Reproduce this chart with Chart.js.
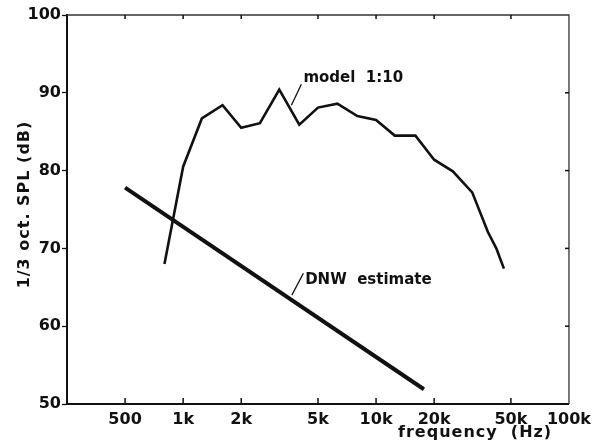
<!DOCTYPE html>
<html>
<head>
<meta charset="utf-8">
<script src="https://cdn.jsdelivr.net/npm/chart.js@4/dist/chart.umd.min.js"></script>
<style>
  html, body { margin: 0; padding: 0; background: #ffffff; }
  #wrap { width: 597px; height: 440px; }
</style>
</head>
<body>
<div id="wrap"><canvas id="c" width="597" height="440"></canvas></div>
<script>
// ---- data ----
const modelFreqs = [800, 1000, 1250, 1600, 2000, 2500, 3150, 4000, 5000, 6300, 8000, 10000, 12500, 16000, 20000, 25000, 31500, 38000, 42000, 46000];
const modelSPL   = [68.0, 80.5, 86.7, 88.4, 85.5, 86.1, 90.4, 85.9, 88.1, 88.6, 87.0, 86.5, 84.5, 84.5, 81.4, 79.9, 77.2, 72.1, 70.0, 67.4];
const dnwFreqs = [500, 17700];
const dnwSPL   = [77.8, 51.9];
const xTickValues = [500, 1000, 2000, 5000, 10000, 20000, 50000, 100000];
const xTickLabels = ['500', '1k', '2k', '5k', '10k', '20k', '50k', '100k'];
const yTickValues = [50, 60, 70, 80, 90, 100];
const xTitle = 'frequency  (Hz)';
const yTitle = '1/3 oct. SPL (dB)';
const modelLabel = 'model  1:10';
const dnwLabel = 'DNW  estimate';
// annotation anchors in data units: [freq, dB]
const modelLeader = [[3640, 88.4], [4100, 91.1]];
const modelText = [4200, 91.4];
const dnwLeader = [[3660, 64.0], [4200, 66.8]];
const dnwText = [4290, 65.4];

const INK = '#111111';
const FONT = '"DejaVu Sans", sans-serif';

const modelData = modelFreqs.map((f, i) => ({ x: f, y: modelSPL[i] }));
const dnwData = dnwFreqs.map((f, i) => ({ x: f, y: dnwSPL[i] }));

const framePlugin = {
  id: 'frame',
  afterDraw(chart) {
    const ctx = chart.ctx;
    const a = chart.chartArea;
    const xs = chart.scales.x, ys = chart.scales.y;
    ctx.save();
    ctx.strokeStyle = '#333';
    ctx.lineWidth = 1.3;
    // top and right borders
    ctx.beginPath();
    ctx.moveTo(a.left, a.top); ctx.lineTo(a.right, a.top);
    ctx.lineTo(a.right, a.bottom);
    ctx.stroke();
    // inward ticks top / bottom
    ctx.strokeStyle = INK;
    ctx.lineWidth = 1.5;
    xTickValues.forEach(v => {
      if (v >= 100000) return;
      const px = xs.getPixelForValue(v);
      ctx.beginPath();
      ctx.moveTo(px, a.bottom); ctx.lineTo(px, a.bottom - 6);
      ctx.moveTo(px, a.top); ctx.lineTo(px, a.top + 4);
      ctx.stroke();
    });
    // inward ticks right
    yTickValues.forEach(v => {
      if (v === 50 || v === 100) return;
      const py = ys.getPixelForValue(v);
      ctx.beginPath();
      ctx.moveTo(a.right, py); ctx.lineTo(a.right - 4, py);
      ctx.stroke();
    });
    // leaders
    ctx.lineWidth = 1.3;
    [modelLeader, dnwLeader].forEach(L => {
      ctx.beginPath();
      ctx.moveTo(xs.getPixelForValue(L[0][0]), ys.getPixelForValue(L[0][1]));
      ctx.lineTo(xs.getPixelForValue(L[1][0]), ys.getPixelForValue(L[1][1]));
      ctx.stroke();
    });
    // annotation texts
    ctx.fillStyle = INK;
    ctx.font = 'bold 15px ' + FONT;
    ctx.textAlign = 'left';
    ctx.textBaseline = 'alphabetic';
    ctx.fillText(modelLabel, xs.getPixelForValue(modelText[0]), ys.getPixelForValue(modelText[1]));
    ctx.fillText(dnwLabel, xs.getPixelForValue(dnwText[0]), ys.getPixelForValue(dnwText[1]));
    // axis titles
    ctx.font = 'bold 16px ' + FONT;
    try { ctx.letterSpacing = '1px'; } catch (e) {}
    ctx.textAlign = 'left';
    ctx.fillText(xTitle, 398, 437);
    ctx.save();
    ctx.translate(29, (a.top + a.bottom) / 2 - 5);
    ctx.rotate(-Math.PI / 2);
    ctx.textAlign = 'center';
    ctx.fillText(yTitle, 0, 0);
    ctx.restore();
    ctx.restore();
  }
};

new Chart(document.getElementById('c'), {
  type: 'line',
  data: {
    datasets: [
      { label: 'model 1:10', data: modelData, borderColor: INK, borderWidth: 2.6, pointRadius: 0, tension: 0, fill: false },
      { label: 'DNW estimate', data: dnwData, borderColor: INK, borderWidth: 4, pointRadius: 0, tension: 0, fill: false, borderCapStyle: 'butt' }
    ]
  },
  options: {
    responsive: false,
    devicePixelRatio: 1,
    animation: false,
    layout: { padding: { left: 0, top: 15, right: 25.5, bottom: 0 } },
    plugins: { legend: { display: false }, tooltip: { enabled: false }, title: { display: false } },
    scales: {
      x: {
        type: 'logarithmic',
        min: 250, max: 100000,
        afterBuildTicks: s => { s.ticks = xTickValues.map(v => ({ value: v })); },
        afterFit: s => { s.height = 36; },
        grid: { drawOnChartArea: false, drawTicks: false },
        border: { display: true, color: INK, width: 2 },
        ticks: {
          autoSkip: false, maxRotation: 0, minRotation: 0, padding: 6,
          color: INK, font: { family: FONT, size: 16, weight: 'bold' },
          callback: v => { const i = xTickValues.indexOf(v); return i >= 0 ? xTickLabels[i] : ''; }
        }
      },
      y: {
        type: 'linear',
        min: 50, max: 100,
        afterBuildTicks: s => { s.ticks = yTickValues.map(v => ({ value: v })); },
        afterFit: s => { s.width = 67; },
        grid: { drawOnChartArea: false, drawTicks: true, tickLength: 5, color: INK, tickWidth: 1.3 },
        border: { display: true, color: INK, width: 2 },
        ticks: { padding: 1, color: INK, font: { family: FONT, size: 16, weight: 'bold' } }
      }
    }
  },
  plugins: [framePlugin]
});
</script>
</body>
</html>
